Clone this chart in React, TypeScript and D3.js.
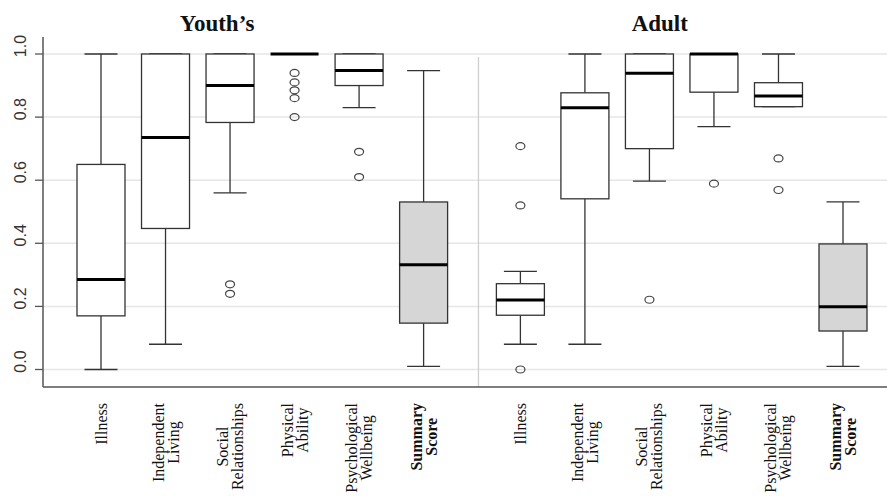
import React, { useMemo } from "react";
import * as d3 from "d3";

const categories = [
  ["Illness"],
  ["Independent", "Living"],
  ["Social", "Relationships"],
  ["Physical", "Ability"],
  ["Psychological", "Wellbeing"],
  ["Summary", "Score"],
];
const boldCategory = [false, false, false, false, false, true];

// [lowWhisker, q1, median, q3, highWhisker]
const youthStats = [
  [0.0, 0.17, 0.285, 0.65, 1.0],
  [0.08, 0.447, 0.735, 1.0, 1.0],
  [0.56, 0.783, 0.9, 1.0, 1.0],
  [1.0, 1.0, 1.0, 1.0, 1.0],
  [0.83, 0.9, 0.948, 1.0, 1.0],
  [0.01, 0.147, 0.332, 0.531, 0.947],
];
const youthOutliers = [
  [],
  [],
  [0.27, 0.24],
  [0.94, 0.91, 0.885, 0.86, 0.8],
  [0.69, 0.61],
  [],
];

const adultStats = [
  [0.08, 0.172, 0.22, 0.272, 0.311],
  [0.08, 0.541, 0.83, 0.877, 1.0],
  [0.597, 0.7, 0.939, 1.0, 1.0],
  [0.77, 0.879, 1.0, 1.0, 1.0],
  [0.833, 0.833, 0.867, 0.909, 1.0],
  [0.01, 0.122, 0.199, 0.398, 0.531],
];
const adultOutliers = [
  [0.708, 0.52, 0.0],
  [],
  [0.221],
  [0.589],
  [0.669, 0.569],
  [],
];

const yTicks = [0, 0.2, 0.4, 0.6, 0.8, 1.0];
const groupTitles = ["Youth\u2019s", "Adult"];
const groupOffsets = [0, 6.5];
const titlePositions = [1.8, 8.66];
const separatorPos = 5.85;

const W = 887;
const H = 496;

function measure(text: string, bold: boolean) {
  const c = document.createElement("canvas");
  const ctx = c.getContext("2d");
  if (!ctx) return text.length * 7;
  ctx.font = `${bold ? "bold " : ""}16px "Liberation Serif", "Times New Roman", serif`;
  return ctx.measureText(text).width;
}

export default function App() {
  const x = d3.scaleLinear().domain([0, 11.5]).range([101, 843]);
  const y = d3.scaleLinear().domain([0, 1]).range([369.5, 54]);
  const boxW = 48;
  const capW = 33;
  const axisLeft = 43;
  const axisBottom = 387;

  const groups = [
    { stats: youthStats, outliers: youthOutliers, offset: groupOffsets[0] },
    { stats: adultStats, outliers: adultOutliers, offset: groupOffsets[1] },
  ];

  const labelWidths = useMemo(
    () => categories.map((lines, i) => Math.max(...lines.map((l) => measure(l, boldCategory[i])))),
    []
  );

  return (
    <div>
      <style>{"body{margin:0;background:#fff}"}</style>
      <svg width={W} height={H} style={{ display: "block" }}>
        <rect width={W} height={H} fill="#fff" />
        {/* gridlines */}
        {yTicks.map((t) => (
          <line key={"g" + t} x1={axisLeft} x2={W} y1={y(t)} y2={y(t)} stroke="#e6e6e6" strokeWidth={1.5} />
        ))}
        {/* separator */}
        <line x1={x(separatorPos)} x2={x(separatorPos)} y1={57} y2={axisBottom} stroke="#cfcfcf" strokeWidth={1.3} />
        {/* axes */}
        <line x1={axisLeft} x2={axisLeft} y1={37} y2={axisBottom} stroke="#555" strokeWidth={1.5} />
        <line x1={axisLeft} x2={W} y1={axisBottom} y2={axisBottom} stroke="#555" strokeWidth={1.5} />
        {yTicks.map((t) => (
          <g key={"t" + t}>
            <line x1={35} x2={axisLeft} y1={y(t)} y2={y(t)} stroke="#555" strokeWidth={1.3} />
            <text
              transform={`translate(25.5,${y(t) - 8}) rotate(-90)`}
              textAnchor="middle"
              fontFamily="'Liberation Sans', Arial, sans-serif"
              fontSize={16}
              fill="#333"
            >
              {t.toFixed(1)}
            </text>
          </g>
        ))}
        {/* titles */}
        {groupTitles.map((t, i) => (
          <text
            key={t}
            x={x(titlePositions[i])}
            y={31}
            textAnchor="middle"
            fontFamily="'Liberation Serif', 'Times New Roman', serif"
            fontWeight="bold"
            fontSize={23}
            fill="#111"
          >
            {t}
          </text>
        ))}
        {/* boxes */}
        {groups.map((g, gi) =>
          g.stats.map((s, i) => {
            const cx = x(i + g.offset);
            const [lo, q1, med, q3, hi] = s;
            const isSummary = i === 5;
            return (
              <g key={`b${gi}-${i}`}>
                <line x1={cx} x2={cx} y1={y(hi)} y2={y(q3)} stroke="#333" strokeWidth={1.3} />
                <line x1={cx} x2={cx} y1={y(q1)} y2={y(lo)} stroke="#333" strokeWidth={1.3} />
                <line x1={cx - capW / 2} x2={cx + capW / 2} y1={y(hi)} y2={y(hi)} stroke="#333" strokeWidth={1.3} />
                <line x1={cx - capW / 2} x2={cx + capW / 2} y1={y(lo)} y2={y(lo)} stroke="#333" strokeWidth={1.3} />
                <rect
                  x={cx - boxW / 2}
                  y={y(q3)}
                  width={boxW}
                  height={Math.max(0, y(q1) - y(q3))}
                  fill={isSummary ? "#d6d6d6" : "#fff"}
                  stroke="#333"
                  strokeWidth={1.3}
                />
                <line x1={cx - boxW / 2} x2={cx + boxW / 2} y1={y(med)} y2={y(med)} stroke="#000" strokeWidth={3} />
                {g.outliers[i].map((o, k) => (
                  <ellipse key={k} cx={cx} cy={y(o)} rx={4.5} ry={3.5} fill="none" stroke="#444" strokeWidth={1.2} />
                ))}
              </g>
            );
          })
        )}
        {/* category labels */}
        {groups.map((g, gi) =>
          categories.map((lines, i) => {
            const cx = x(i + g.offset);
            const L = labelWidths[i];
            const cy = 403 + L / 2;
            return (
              <g key={`l${gi}-${i}`}>
                {lines.map((ln, k) => (
                  <text
                    key={k}
                    transform={`translate(${cx + (k - (lines.length - 1) / 2) * 15},${cy}) rotate(-90)`}
                    textAnchor="middle"
                    dominantBaseline="central"
                    fontFamily="'Liberation Serif', 'Times New Roman', serif"
                    fontWeight={boldCategory[i] ? "bold" : "normal"}
                    fontSize={16}
                    fill="#111"
                  >
                    {ln}
                  </text>
                ))}
              </g>
            );
          })
        )}
      </svg>
    </div>
  );
}
